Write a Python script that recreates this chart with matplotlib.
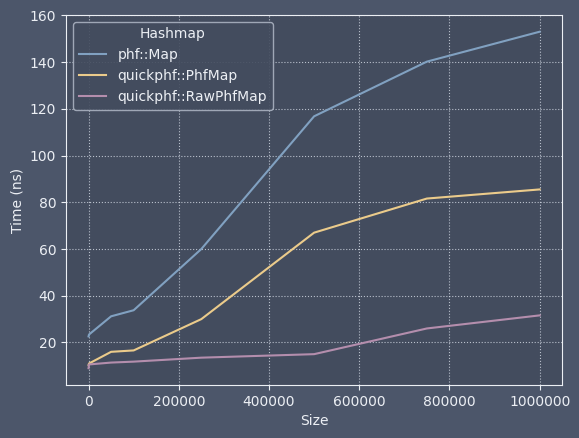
import matplotlib
matplotlib.use("Agg")
import matplotlib.pyplot as plt

sizes = [10, 1000, 50000, 100000, 250000, 500000, 750000, 1000000]
phf_map = [22.6, 23.4, 31.2, 33.8, 60.0, 116.8, 140.2, 153.0]
quick_phf_map = [10.4, 11.0, 16.0, 16.6, 30.0, 67.0, 81.6, 85.5]
quick_raw_phf_map = [9.0, 10.6, 11.4, 11.8, 13.5, 15.0, 26.0, 31.6]
series_names = ["phf::Map", "quickphf::PhfMap", "quickphf::RawPhfMap"]

bg = "#4c566a"
face = "#434c5e"
fg = "#eceff4"
colors = ["#81a1c1", "#ebcb8b", "#b48ead"]

plt.rcParams["text.color"] = fg
plt.rcParams["axes.labelcolor"] = fg
plt.rcParams["xtick.color"] = fg
plt.rcParams["ytick.color"] = fg

fig = plt.figure(figsize=(5.79, 4.38), dpi=100, facecolor=bg)
ax = fig.add_axes([0.114, 0.121, 0.857, 0.845])
ax.set_facecolor(face)
for s in ax.spines.values():
    s.set_color(fg)

for vals, name, c in zip([phf_map, quick_phf_map, quick_raw_phf_map], series_names, colors):
    ax.plot(sizes, vals, color=c, label=name, linewidth=1.5)

ax.grid(True, linestyle=":", color="#d8dee9", alpha=0.8, linewidth=0.8)
ax.ticklabel_format(axis="x", style="plain", useOffset=False)
ax.set_xlabel("Size")
ax.set_ylabel("Time (ns)")

leg = ax.legend(title="Hashmap", loc="upper left", facecolor=face, edgecolor="#aab2c0")
leg.get_frame().set_alpha(0.9)

fig.savefig("out.png", dpi=100, facecolor=bg)
